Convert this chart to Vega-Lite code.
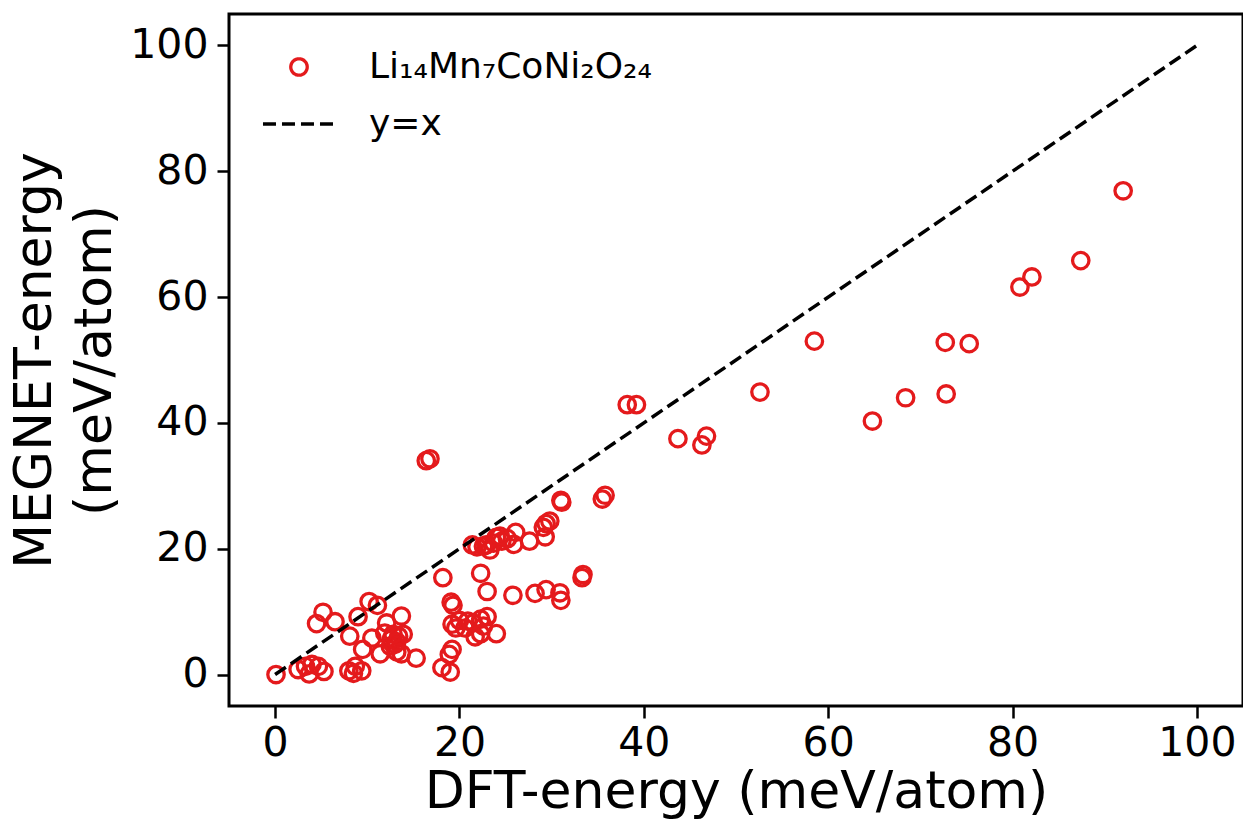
{
  "$schema": "https://vega.github.io/schema/vega-lite/v6.json",
  "width": 1014,
  "height": 692,
  "autosize": {"type": "none"},
  "padding": {"left": 229, "top": 14, "right": 0, "bottom": 119},
  "background": "white",
  "config": {
    "font": "DejaVu Sans",
    "view": {"stroke": "black", "strokeWidth": 3},
    "axis": {
      "grid": false, "domain": false, "tickColor": "black", "tickWidth": 2.5, "tickSize": 12,
      "labelFontSize": 41, "labelColor": "black", "labelFont": "DejaVu Sans", "labelPadding": 9,
      "titleFontSize": 52, "titleFontWeight": "normal", "titleColor": "black", "titleFont": "DejaVu Sans"
    },
    "legend": {
      "title": null, "orient": "none", "legendX": 52, "legendY": 35, "padding": 0,
      "labelFontSize": 36, "labelFont": "DejaVu Sans", "labelColor": "black", "labelLimit": 500,
      "symbolSize": 830, "rowPadding": 21, "labelOffset": 52, "symbolStrokeWidth": 3
    }
  },
  "datasets": {
    "pts": [
      {"dft": 92.0, "megnet": 76.9}, {"dft": 87.4, "megnet": 65.8}, {"dft": 82.1, "megnet": 63.2}, {"dft": 80.8, "megnet": 61.6},
      {"dft": 75.3, "megnet": 52.6}, {"dft": 72.7, "megnet": 52.8}, {"dft": 72.8, "megnet": 44.6}, {"dft": 68.4, "megnet": 44.0},
      {"dft": 64.8, "megnet": 40.3}, {"dft": 58.5, "megnet": 53.0}, {"dft": 52.6, "megnet": 44.9}, {"dft": 46.8, "megnet": 37.9},
      {"dft": 46.3, "megnet": 36.5}, {"dft": 43.7, "megnet": 37.5}, {"dft": 39.2, "megnet": 42.9}, {"dft": 38.2, "megnet": 42.9},
      {"dft": 16.8, "megnet": 34.3}, {"dft": 16.4, "megnet": 34.0}, {"dft": 35.8, "megnet": 28.5}, {"dft": 35.5, "megnet": 27.9},
      {"dft": 31.1, "megnet": 27.4}, {"dft": 31.0, "megnet": 27.7}, {"dft": 29.8, "megnet": 24.4}, {"dft": 29.4, "megnet": 24.0},
      {"dft": 29.1, "megnet": 23.4}, {"dft": 29.3, "megnet": 21.9}, {"dft": 27.6, "megnet": 21.2}, {"dft": 26.1, "megnet": 22.6},
      {"dft": 25.9, "megnet": 20.7}, {"dft": 25.2, "megnet": 21.6}, {"dft": 24.6, "megnet": 21.2}, {"dft": 24.0, "megnet": 21.8},
      {"dft": 23.7, "megnet": 20.9}, {"dft": 23.3, "megnet": 19.8}, {"dft": 22.9, "megnet": 20.6}, {"dft": 22.6, "megnet": 20.4},
      {"dft": 21.9, "megnet": 20.3}, {"dft": 21.4, "megnet": 20.6}, {"dft": 24.4, "megnet": 22.0}, {"dft": 22.3, "megnet": 16.1},
      {"dft": 18.2, "megnet": 15.4}, {"dft": 23.0, "megnet": 13.2}, {"dft": 25.8, "megnet": 12.6}, {"dft": 28.2, "megnet": 12.9},
      {"dft": 29.4, "megnet": 13.5}, {"dft": 30.9, "megnet": 13.0}, {"dft": 31.0, "megnet": 11.8}, {"dft": 33.4, "megnet": 15.9},
      {"dft": 33.3, "megnet": 15.4}, {"dft": 19.1, "megnet": 11.5}, {"dft": 19.3, "megnet": 11.0}, {"dft": 19.2, "megnet": 8.0},
      {"dft": 20.0, "megnet": 8.6}, {"dft": 20.9, "megnet": 8.5}, {"dft": 21.5, "megnet": 8.2}, {"dft": 22.3, "megnet": 8.8},
      {"dft": 23.0, "megnet": 9.2}, {"dft": 20.6, "megnet": 7.4}, {"dft": 19.6, "megnet": 7.4}, {"dft": 22.6, "megnet": 7.7},
      {"dft": 21.7, "megnet": 6.0}, {"dft": 22.3, "megnet": 6.5}, {"dft": 24.0, "megnet": 6.5}, {"dft": 19.2, "megnet": 4.0},
      {"dft": 18.9, "megnet": 3.2}, {"dft": 18.1, "megnet": 1.1}, {"dft": 19.0, "megnet": 0.4}, {"dft": 15.3, "megnet": 2.6},
      {"dft": 13.7, "megnet": 9.3}, {"dft": 13.9, "megnet": 6.4}, {"dft": 13.7, "megnet": 3.3}, {"dft": 12.1, "megnet": 8.2},
      {"dft": 11.9, "megnet": 6.6}, {"dft": 12.6, "megnet": 5.6}, {"dft": 13.4, "megnet": 6.1}, {"dft": 12.5, "megnet": 4.5},
      {"dft": 13.0, "megnet": 4.8}, {"dft": 13.2, "megnet": 3.6}, {"dft": 12.8, "megnet": 6.4}, {"dft": 13.2, "megnet": 5.2},
      {"dft": 11.4, "megnet": 3.3}, {"dft": 10.5, "megnet": 5.8}, {"dft": 9.5, "megnet": 4.0}, {"dft": 8.1, "megnet": 6.1},
      {"dft": 9.0, "megnet": 9.2}, {"dft": 10.2, "megnet": 11.6}, {"dft": 11.1, "megnet": 11.0}, {"dft": 5.2, "megnet": 9.9},
      {"dft": 4.5, "megnet": 8.1}, {"dft": 6.5, "megnet": 8.4}, {"dft": 0.1, "megnet": 0.0}, {"dft": 2.5, "megnet": 0.8},
      {"dft": 3.3, "megnet": 1.3}, {"dft": 4.0, "megnet": 1.6}, {"dft": 4.7, "megnet": 1.3}, {"dft": 3.7, "megnet": 0.1},
      {"dft": 5.3, "megnet": 0.5}, {"dft": 8.0, "megnet": 0.6}, {"dft": 8.7, "megnet": 1.3}, {"dft": 9.4, "megnet": 0.6},
      {"dft": 8.5, "megnet": 0.2}
    ],
    "ref": [
      {"dft": 0, "megnet": 0, "series": "y=x"},
      {"dft": 100, "megnet": 100, "series": "y=x"}
    ]
  },
  "layer": [
    {
      "data": {"name": "pts"},
      "transform": [{"calculate": "'Li₁₄Mn₇CoNi₂O₂₄'", "as": "series"}],
      "mark": {"type": "point", "filled": false, "strokeWidth": 3.3, "size": 270, "opacity": 1, "clip": true},
      "encoding": {
        "x": {"field": "dft", "type": "quantitative",
              "scale": {"domain": [-5, 105], "nice": false, "zero": false},
              "axis": {"values": [0, 20, 40, 60, 80, 100], "title": "DFT-energy (meV/atom)", "labelPadding": 5, "titlePadding": 3}},
        "y": {"field": "megnet", "type": "quantitative",
              "scale": {"domain": [-5, 105], "nice": false, "zero": false},
              "axis": {"values": [0, 20, 40, 60, 80, 100], "title": ["MEGNET-energy", "(meV/atom)"], "titlePadding": 8, "titleLineHeight": 60}},
        "color": {"field": "series", "type": "nominal",
                  "scale": {"domain": ["Li₁₄Mn₇CoNi₂O₂₄", "y=x"], "range": ["#e41a1c", "black"]},
                  "legend": {
                    "encode": {"symbols": {"update": {
                      "shape": {"signal": "datum.value === 'y=x' ? 'M-2.5,0L2.5,0' : 'circle'"},
                      "size": {"signal": "datum.value === 'y=x' ? 830 : 270"},
                      "strokeDash": {"signal": "datum.value === 'y=x' ? [13, 6] : [1, 0]"},
                      "fill": {"value": "transparent"},
                      "stroke": {"signal": "datum.value === 'y=x' ? 'black' : '#e41a1c'"},
                      "strokeWidth": {"value": 3.3},
                      "opacity": {"value": 1}
                    }}}
                  }}
      }
    },
    {
      "data": {"name": "ref"},
      "mark": {"type": "line", "strokeWidth": 3.5, "strokeDash": [13, 6], "clip": true},
      "encoding": {
        "x": {"field": "dft", "type": "quantitative"},
        "y": {"field": "megnet", "type": "quantitative"},
        "color": {"field": "series", "type": "nominal",
                  "legend": {
                    "encode": {"symbols": {"update": {
                      "shape": {"signal": "datum.value === 'y=x' ? 'M-2.5,0L2.5,0' : 'circle'"},
                      "size": {"signal": "datum.value === 'y=x' ? 830 : 270"},
                      "strokeDash": {"signal": "datum.value === 'y=x' ? [13, 6] : [1, 0]"},
                      "fill": {"value": "transparent"},
                      "stroke": {"signal": "datum.value === 'y=x' ? 'black' : '#e41a1c'"},
                      "strokeWidth": {"value": 3.3},
                      "opacity": {"value": 1}
                    }}}
                  }}
      }
    }
  ]
}
